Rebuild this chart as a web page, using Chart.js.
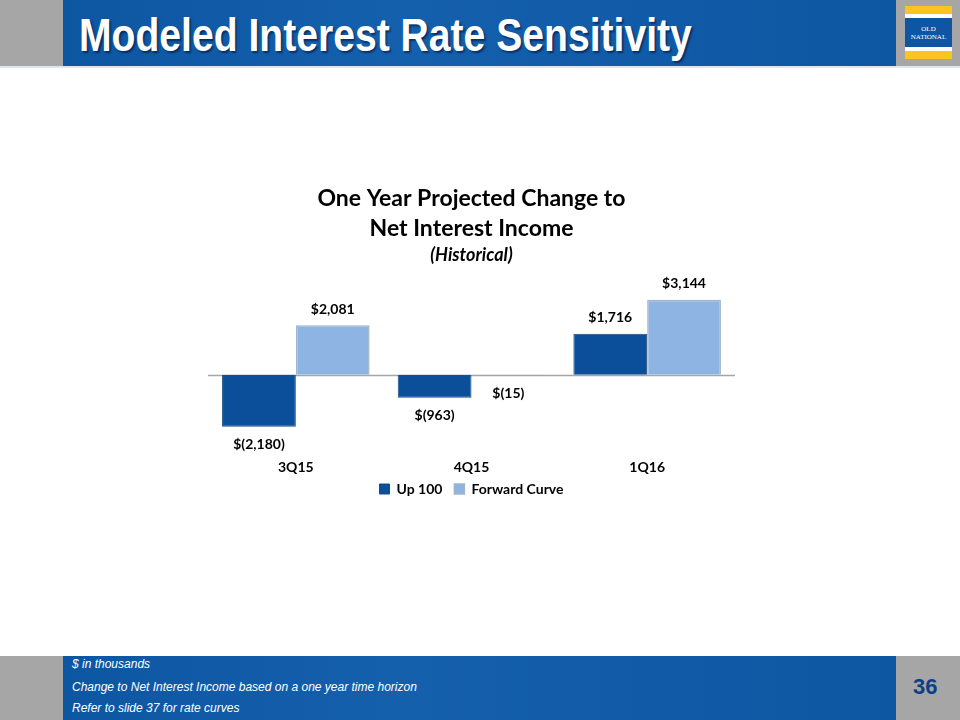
<!DOCTYPE html>
<html>
<head>
<meta charset="utf-8">
<script src="https://cdn.jsdelivr.net/npm/chart.js@4.4.1/dist/chart.umd.min.js"></script>
<style>
  body { margin: 0; width: 960px; height: 720px; background: #fff; position: relative; overflow: hidden; font-family: "Liberation Sans", Arial, sans-serif; }
  .gray { position: absolute; background: #a6a6a6; }
  .blue { position: absolute; background: linear-gradient(90deg, #0c56a2, #1560ad 40%, #0c56a2); }
  #title { position: absolute; left: 79px; top: 7px; color: #fff; font-weight: bold; font-size: 47px; white-space: nowrap;
           transform: scaleX(0.832); transform-origin: left top; text-shadow: 2px 2px 2px rgba(0,0,40,0.5); }
  #logo { position: absolute; left: 905px; top: 6px; width: 47px; height: 53px; background: #fbc421; }
  #logo .band { position: absolute; left: 0; width: 47px; background: #fff; height: 4px; }
  #logo .mid { position: absolute; left: 0; top: 12px; width: 47px; height: 29px; background: #0e56a3; color: #fff; font-family: "Liberation Serif", serif; font-size: 7px; text-align: center; line-height: 8px; padding-top: 7px; box-sizing: border-box; }
  .note { position: absolute; left: 72px; color: #fff; font-style: italic; font-size: 12px; }
  #page { position: absolute; left: 913px; top: 674px; color: #0e3f85; font-weight: bold; font-size: 22px; }
  #chartBox { position: absolute; left: 200px; top: 184px; width: 543px; height: 331px; }
</style>
</head>
<body>
<div class="gray" style="left:0;top:0;width:63px;height:66px"></div>
<div class="blue" style="left:63px;top:0;width:833px;height:66px"></div>
<div class="gray" style="left:896px;top:0;width:64px;height:66px"></div>
<div style="position:absolute;left:0;top:66px;width:960px;height:2px;background:#dbe6f2"></div>
<div id="title">Modeled Interest Rate Sensitivity</div>
<div id="logo">
  <div class="band" style="top:8px"></div>
  <div class="mid">OLD<br>NATIONAL</div>
  <div class="band" style="top:41px"></div>
</div>

<div id="chartBox"><canvas id="chart"></canvas></div>

<div class="gray" style="left:0;top:656px;width:63px;height:64px"></div>
<div class="blue" style="left:63px;top:656px;width:833px;height:64px"></div>
<div class="gray" style="left:896px;top:656px;width:64px;height:64px"></div>
<div class="note" style="top:657px">$ in thousands</div>
<div class="note" style="top:680px">Change to Net Interest Income based on a one year time horizon</div>
<div class="note" style="top:701px">Refer to slide 37 for rate curves</div>
<div id="page">36</div>

<script>
// Data
var quarters = ['3Q15', '4Q15', '1Q16'];
var up100 = [-2180, -963, 1716];
var forwardCurve = [2081, -15, 3144];

var darkBlue = '#0b4f9b',
    lightBlue = '#8eb4e3',
    labelColor = '#000000',
    chartFont = 'Lato, "Open Sans", sans-serif';

function money(v) {
    var n = Math.abs(v).toLocaleString('en-US');
    return v < 0 ? '$(' + n + ')' : '$' + n;
}

// Plugin block - zero line, value labels, legend nudge
const zeroLine = {
    id: 'zeroLine',
    beforeDatasetsDraw(chart) {
        const ctx = chart.ctx,
            area = chart.chartArea,
            y = Math.round(chart.scales.y.getPixelForValue(0)) + 0.5;
        ctx.save();
        ctx.strokeStyle = '#a6a6a6';
        ctx.lineWidth = 1.5;
        ctx.beginPath();
        ctx.moveTo(area.left, y);
        ctx.lineTo(area.right, y);
        ctx.stroke();
        ctx.restore();
    }
};

const valueLabels = {
    id: 'valueLabels',
    afterDatasetsDraw(chart) {
        const ctx = chart.ctx;
        ctx.save();
        ctx.font = 'bold 14px ' + chartFont;
        ctx.fillStyle = labelColor;
        ctx.textAlign = 'center';
        ctx.textBaseline = 'middle';
        chart.data.datasets.forEach(function (ds, i) {
            chart.getDatasetMeta(i).data.forEach(function (bar, j) {
                var v = ds.data[j];
                if (v >= 0) {
                    ctx.fillText(money(v), bar.x, bar.y - 16);
                } else {
                    ctx.fillText(money(v), bar.x, bar.y + 18);
                }
            });
        });
        ctx.restore();
    }
};

const legendNudge = {
    id: 'legendNudge',
    afterLayout(chart) {
        chart.legend.top -= 9;
        chart.legend.bottom -= 9;
    }
};

var chart = new Chart(document.getElementById('chart'), {
    type: 'bar',
    data: {
        labels: quarters,
        datasets: [
            {
                label: 'Up 100',
                data: up100,
                backgroundColor: darkBlue,
                borderColor: '#1c4a80',
                borderWidth: 1,
                categoryPercentage: 0.84,
                barPercentage: 1
            },
            {
                label: 'Forward Curve',
                data: forwardCurve,
                backgroundColor: lightBlue,
                borderColor: '#a0b4cc',
                borderWidth: 1.5,
                categoryPercentage: 0.84,
                barPercentage: 1
            }
        ]
    },
    options: {
        responsive: true,
        maintainAspectRatio: false,
        animation: false,
        layout: { padding: { left: 8, right: 8, top: 0, bottom: 0 } },
        scales: {
            x: {
                grid: { display: false },
                border: { display: false },
                ticks: {
                    color: labelColor,
                    padding: 3,
                    font: { family: chartFont, size: 14, weight: 'bold' }
                }
            },
            y: {
                display: false,
                min: -3080,
                max: 3330
            }
        },
        plugins: {
            tooltip: { enabled: false },
            title: {
                display: true,
                text: ['One Year Projected Change to', 'Net Interest Income'],
                color: '#000',
                font: { family: chartFont, size: 23, weight: 'bold', lineHeight: 1.3 },
                padding: { top: 0, bottom: 0 }
            },
            subtitle: {
                display: true,
                text: '(Historical)',
                color: '#000',
                font: { family: chartFont, size: 18, weight: 'bold', style: 'italic' },
                padding: { top: 1, bottom: 29 }
            },
            legend: {
                position: 'bottom',
                labels: {
                    color: labelColor,
                    boxWidth: 10,
                    boxHeight: 10,
                    padding: 12,
                    font: { family: chartFont, size: 14, weight: 'bold' }
                }
            }
        }
    },
    plugins: [zeroLine, valueLabels, legendNudge]
});
</script>
</body>
</html>
